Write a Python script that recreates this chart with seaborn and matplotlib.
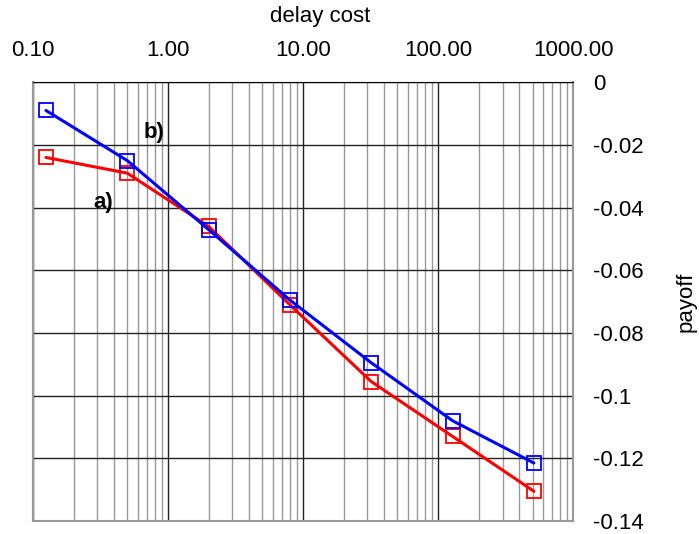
import matplotlib
matplotlib.use("Agg")
import matplotlib.pyplot as plt
import seaborn as sns
import numpy as np
import pandas as pd
from matplotlib.ticker import FuncFormatter, FixedLocator, LogLocator

sns.set_style("white")
plt.rcParams['font.family'] = ['Liberation Sans', 'DejaVu Sans']
plt.rcParams['text.color'] = 'black'
plt.rcParams['axes.labelcolor'] = 'black'
plt.rcParams['xtick.color'] = 'black'
plt.rcParams['ytick.color'] = 'black'

# delay cost values (powers of 4)
delay_cost = [0.125, 0.5, 2, 8, 32, 128, 512]
payoff_a = [-0.024, -0.029, -0.046, -0.071, -0.0955, -0.113, -0.1305]
payoff_b = [-0.009, -0.025, -0.047, -0.0695, -0.0895, -0.108, -0.1215]
series_names = ['a)', 'b)']

df = pd.DataFrame({
    'delay cost': delay_cost * 2,
    'payoff': payoff_a + payoff_b,
    'series': [series_names[0]] * len(delay_cost) + [series_names[1]] * len(delay_cost),
})

fig = plt.figure(figsize=(6.99, 5.34), dpi=100)
ax = fig.add_axes([0.047, 0.0243, 0.773, 0.8217])

ax.set_xscale('log')
ax.set_xlim(0.1, 1000)
ax.set_ylim(-0.14, 0)

# grid: minor grey, major dark
ax.xaxis.set_minor_locator(LogLocator(base=10, subs=np.arange(2, 10)))
ax.grid(True, which='minor', axis='x', color='#999999', linewidth=1)
ax.grid(True, which='major', axis='both', color='#222222', linewidth=1)
ax.set_axisbelow(True)

sns.lineplot(data=df, x='delay cost', y='payoff', hue='series',
             palette={'a)': '#ff0000', 'b)': '#0000ff'},
             marker='s', markersize=10.5, markerfacecolor='none',
             markeredgewidth=1.3, linewidth=2.2, legend=False, ax=ax)
for line in ax.get_lines():
    line.set_markeredgecolor(line.get_color())
    line.set_markerfacecolor('none')

ax.xaxis.tick_top()
ax.xaxis.set_label_position('top')
ax.xaxis.set_major_locator(FixedLocator([0.1, 1, 10, 100, 1000]))
ax.xaxis.set_major_formatter(FuncFormatter(lambda v, p: f'{v:.2f}'))
ax.yaxis.tick_right()
ax.yaxis.set_label_position('right')
ax.set_yticks(np.arange(-0.14, 0.001, 0.02))
ax.yaxis.set_major_formatter(FuncFormatter(lambda v, p: '0' if abs(v) < 1e-9 else f'{v:g}'))
ax.tick_params(axis='x', which='both', length=0, pad=15, labelsize=16)
ax.tick_params(axis='y', length=0, pad=14.5, labelsize=16)

ax.set_xlabel('delay cost', fontsize=16)
ax.xaxis.set_label_coords(0.531, 1.137)
ax.set_ylabel('payoff', fontsize=16, labelpad=23)

for side in ['left', 'bottom', 'right']:
    ax.spines[side].set_color('#999999')
    ax.spines[side].set_linewidth(1.5)
ax.spines['top'].set_color('black')

ax.text(0.665, -0.016, 'b)', fontsize=16, fontweight='bold', ha='left', va='center')
ax.text(0.393, -0.0383, 'a)', fontsize=16, fontweight='bold', ha='right', va='center')

fig.savefig('out.png', dpi=100)
